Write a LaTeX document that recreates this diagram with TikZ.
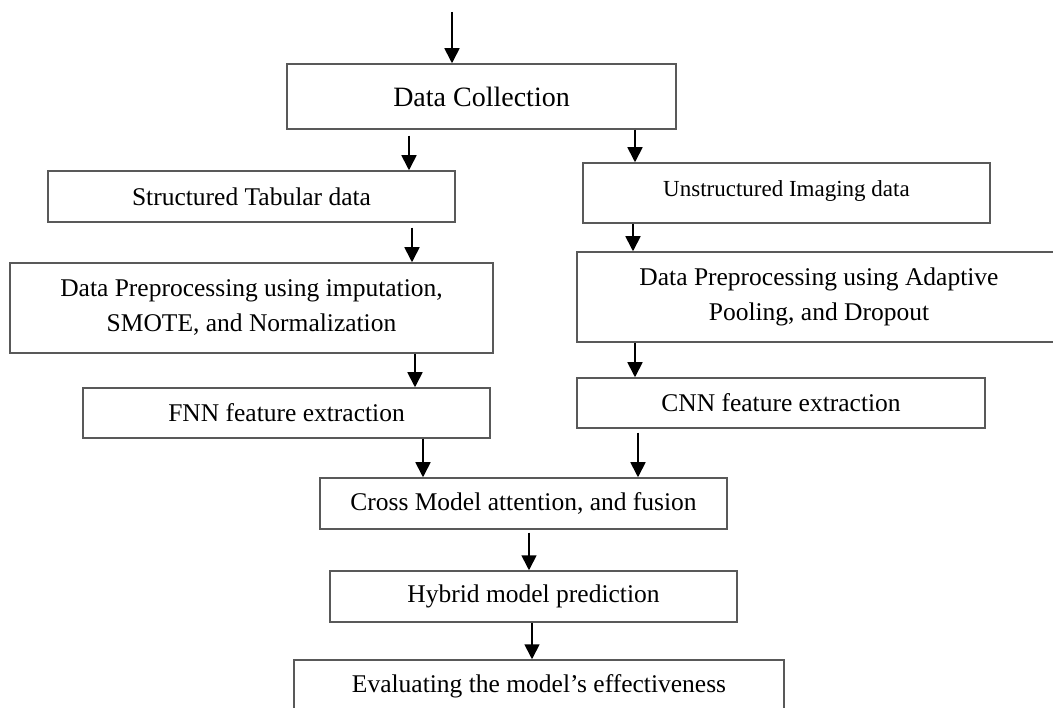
\documentclass[tikz,border=0pt]{standalone}
\usepackage{fontspec}
\setmainfont{Liberation Serif}
\usetikzlibrary{arrows.meta}
\begin{document}
\begin{tikzpicture}[x=1pt,y=-1pt,
  box/.style={draw=black!65, line width=1.5pt, rectangle, inner sep=0pt, align=center,
    font=\fontsize{25.5}{35}\selectfont},
  arr/.style={draw=black, line width=1.7pt, -{Triangle[width=15pt,length=15pt]}}]
\useasboundingbox (0,0) rectangle (1053,708);
\node[box, minimum width=389pt, minimum height=65pt, font=\fontsize{28}{34}\selectfont] (dc) at (481.5,96.5) {Data Collection};
\node[box, minimum width=407pt, minimum height=51pt] (st) at (251.5,196.5) {Structured Tabular data};
\node[box, minimum width=407pt, minimum height=60pt, font=\fontsize{23}{30}\selectfont, text depth=8pt] (ui) at (786.5,193) {Unstructured Imaging data};
\node[box, minimum width=483pt, minimum height=90pt] (dpl) at (251.5,308) {Data Preprocessing using imputation,\\SMOTE, and Normalization};
\node[box, minimum width=484pt, minimum height=90pt] (dpr) at (819,297) {Data Preprocessing using Adaptive\\Pooling, and Dropout};
\node[box, minimum width=407pt, minimum height=50pt] (fnn) at (286.5,413) {FNN feature extraction};
\node[box, minimum width=408pt, minimum height=50pt] (cnn) at (781,403) {CNN feature extraction};
\node[box, minimum width=407pt, minimum height=51pt] (cm) at (523.5,503.5) {Cross Model attention, and fusion};
\node[box, minimum width=407pt, minimum height=51pt] (hy) at (533.5,596.5) {Hybrid model prediction};
\node[box, minimum width=490pt, minimum height=52pt] (ev) at (539,686) {Evaluating the model’s effectiveness};
\coordinate (start) at (452,12);
\draw[arr] (start) -- ([xshift=-29.5pt]dc.north);
\draw[arr] ([xshift=-72.5pt,yshift=-6pt]dc.south) -- ([xshift=157.5pt]st.north);
\draw[arr] ([xshift=153.5pt]dc.south) -- ([xshift=-151.5pt]ui.north);
\draw[arr] ([xshift=160.5pt,yshift=-5pt]st.south) -- ([xshift=160.5pt]dpl.north);
\draw[arr] ([xshift=-153.5pt]ui.south) -- ([xshift=-186pt]dpr.north);
\draw[arr] ([xshift=163.5pt]dpl.south) -- ([xshift=128.5pt]fnn.north);
\draw[arr] ([xshift=-184pt]dpr.south) -- ([xshift=-146pt]cnn.north);
\draw[arr] ([xshift=136.5pt]fnn.south) -- ([xshift=-100.5pt]cm.north);
\draw[arr] ([xshift=-143pt,yshift=-4pt]cnn.south) -- ([xshift=114.5pt]cm.north);
\draw[arr] ([xshift=5.5pt,yshift=-3pt]cm.south) -- ([xshift=-4.5pt]hy.north);
\draw[arr] ([xshift=-1.5pt]hy.south) -- ([xshift=-7pt]ev.north);
\end{tikzpicture}
\end{document}
